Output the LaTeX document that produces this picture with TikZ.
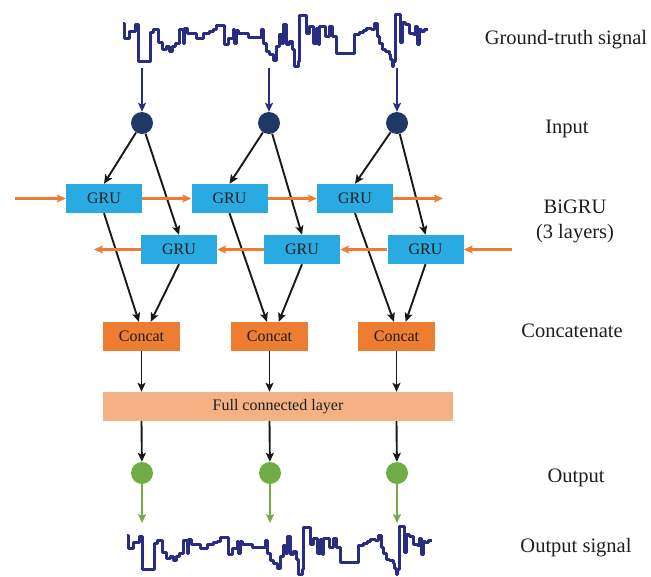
\documentclass[tikz,border=0pt]{standalone}
\usepackage{fontspec}
\setmainfont{Liberation Serif}
\usetikzlibrary{arrows.meta}
\definecolor{sigblue}{RGB}{40,44,130}
\definecolor{innavy}{RGB}{31,56,100}
\definecolor{grublue}{RGB}{41,171,226}
\definecolor{corange}{RGB}{237,125,49}
\definecolor{fcorange}{RGB}{244,177,131}
\definecolor{ogreen}{RGB}{112,173,71}
\definecolor{txt}{RGB}{30,30,30}
\newcommand\mysignal[1]{\draw[#1] plot coordinates {(68,72) (75,72) (75,115) (90,115) (90,95) (108,95) (108,75) (116,75) (116,185) (152,185) (152,98) (160,98) (160,88) (175,88) (175,128) (188,128) (188,148) (200,148) (200,140) (208,140) (208,155) (218,155) (218,140) (228,140) (228,132) (240,132) (240,88) (250,88) (250,130) (255,130) (255,85) (262,85) (262,100) (290,100) (290,115) (310,115) (310,100) (330,100) (330,95) (340,95) (340,90) (350,90) (350,78) (375,78) (375,135) (385,135) (385,115) (400,115) (400,90) (405,90) (405,130) (410,130) (410,92) (415,92) (415,100) (445,100) (445,112) (485,112) (485,88) (492,88) (492,130) (500,130) (500,155) (510,155) (510,165) (520,165) (520,183) (530,183) (530,140) (540,140) (540,105) (545,105) (545,130) (550,130) (550,75) (560,75) (560,135) (570,135) (570,125) (578,125) (578,150) (585,150) (585,200) (595,200) (595,185) (600,185) (600,45) (620,45) (620,100) (628,100) (628,80) (640,80) (640,130) (650,130) (650,85) (655,85) (655,135) (660,135) (660,80) (678,80) (678,110) (690,110) (690,80) (698,80) (698,110) (710,110) (710,160) (765,160) (765,105) (780,105) (780,98) (790,98) (790,92) (800,92) (800,85) (815,85) (815,88) (825,88) (825,72) (832,72) (832,110) (840,110) (840,130) (848,130) (848,150) (858,150) (858,155) (868,155) (868,165) (872,165) (872,180) (878,180) (878,200) (882,200) (882,185) (888,185) (888,42) (902,42) (902,128) (908,128) (908,68) (918,68) (918,75) (930,75) (930,100) (940,100) (940,105) (948,105) (948,80) (952,80) (952,135) (958,135) (958,90) (965,90) (965,95) (975,95) (975,88) (985,88)};}
\begin{document}
\begin{tikzpicture}[x=1pt,y=-1pt,
  sig/.style={sigblue,line width=3pt,line join=round},
  incirc/.style={circle,fill=innavy,minimum size=22pt,inner sep=0pt},
  outcirc/.style={circle,fill=ogreen,minimum size=22pt,inner sep=0pt},
  grubox/.style={rectangle,fill=grublue,minimum width=76pt,minimum height=29pt,inner sep=0pt,text=txt,font=\fontsize{16}{18}\selectfont},
  catbox/.style={rectangle,fill=corange,minimum width=77pt,minimum height=29pt,inner sep=0pt,text=txt,font=\fontsize{16}{18}\selectfont},
  fcbox/.style={rectangle,fill=fcorange,minimum width=350pt,minimum height=29pt,inner sep=0pt,text=txt,font=\fontsize{16}{18}\selectfont},
  blk/.style={draw=black!90,line width=1.9pt,-{Stealth[length=9pt,width=8pt,inset=2pt]}},
  nav/.style={draw=sigblue,line width=1.9pt,-{Stealth[length=9pt,width=8pt,inset=2pt]}},
  orng/.style={draw=corange,line width=2.2pt,-{Stealth[length=9pt,width=8pt,inset=2pt]}},
  grn/.style={draw=ogreen,line width=1.9pt,-{Stealth[length=9pt,width=8pt,inset=2pt]}},
  lbl/.style={text=txt,font=\fontsize{20.5}{25}\selectfont,align=center}]
\useasboundingbox (0,0) rectangle (651,576);

% signals
\begin{scope}[shift={(100,0)},x=0.3333pt,y=-0.3333pt]
\mysignal{sig}
\end{scope}
\begin{scope}[shift={(104,514)},x=0.3333pt,y=-0.30pt]
\mysignal{sig}
\end{scope}

% input nodes
\coordinate (s1) at (142,68);
\coordinate (s2) at (269,68);
\coordinate (s3) at (397,68);
\node[incirc] (i1) at (142,123) {};
\node[incirc] (i2) at (269,123) {};
\node[incirc] (i3) at (397,123) {};

% GRU forward
\node[grubox] (f1) at (104,198.5) {GRU};
\node[grubox] (f2) at (229.5,198.5) {GRU};
\node[grubox] (f3) at (355,198.5) {GRU};
% GRU backward
\node[grubox] (b1) at (179,249.5) {GRU};
\node[grubox] (b2) at (302,249.5) {GRU};
\node[grubox] (b3) at (425.5,249.5) {GRU};

% concat
\node[catbox] (c1) at (141.5,336.5) {Concat};
\node[catbox] (c2) at (269.5,336.5) {Concat};
\node[catbox] (c3) at (396.5,336.5) {Concat};

% FC
\node[fcbox] (fc) at (278,406.5) {Full connected layer};

% outputs
\node[outcirc] (o1) at (142,473) {};
\node[outcirc] (o2) at (270,473) {};
\node[outcirc] (o3) at (397,473) {};
\coordinate (e1) at (142,523);
\coordinate (e2) at (270,523);
\coordinate (e3) at (397,523);

% orange chain coordinates
\coordinate (fl) at (15,198.5);
\coordinate (fr) at (443,198.5);
\coordinate (br) at (512,249.5);
\coordinate (bl) at (94,249.5);

% arrows
\foreach \k in {1,2,3}{
  \draw[nav] (s\k) -- (i\k);
  \draw[blk] (i\k) -- (f\k.north);
  \draw[blk] (i\k) -- (b\k.north);
  \draw[blk] (f\k.south) -- (c\k.100);
  \draw[blk] (b\k.south) -- (c\k.58);
  \draw[blk] (c\k.south) -- (c\k.south |- fc.north);
  \draw[blk] (c\k.south |- fc.south) -- (o\k);
  \draw[grn] (o\k) -- (e\k);
}
\draw[orng] (fl) -- (f1);
\draw[orng] (f1) -- (f2);
\draw[orng] (f2) -- (f3);
\draw[orng] (f3) -- (fr);
\draw[orng] (br) -- (b3);
\draw[orng] (b3) -- (b2);
\draw[orng] (b2) -- (b1);
\draw[orng] (b1) -- (bl);

% labels
\node[lbl] (lgt) at (566,40) {Ground-truth signal};
\node[lbl] (lin) at (567,129) {Input};
\node[lbl] (lbi) at (575,221) {BiGRU\\(3 layers)};
\node[lbl] (lcc) at (572,331) {Concatenate};
\node[lbl] (lou) at (576,478) {Output};
\node[lbl] (los) at (576,548) {Output signal};
\end{tikzpicture}
\end{document}
